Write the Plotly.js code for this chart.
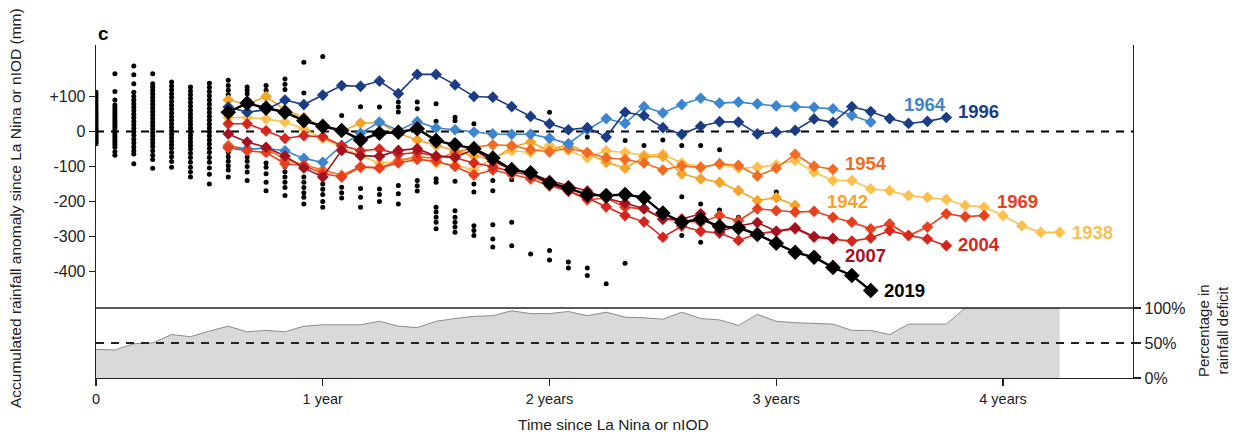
<!DOCTYPE html>
<html><head><meta charset="utf-8">
<script src="https://cdn.plot.ly/plotly-3.0.1.min.js"></script>
<style>html,body{margin:0;padding:0;background:#fff}#chart{width:1237px;height:434px}</style>
</head><body><div id="chart"></div>
<script>
// ---------- DATA ----------
const startMonth = 7; // all yearly series begin 7 months after onset
const s1938 = [40,40,36,27,8,-20,-45,-70,-90,-85,-75,-90,-95,-110,-75,-55,-60,-40,-55,-75,-55,-60,-68,-65,-90,-100,-95,-105,-102,-95,-83,-116,-140,-140,-164,-169,-183,-188,-194,-211,-216,-240,-269,-288,-288];
const s1942 = [90,78,100,62,40,12,0,24,25,-5,-24,-40,-55,-70,-80,-45,-30,-55,-35,-62,-88,-105,-73,-71,-121,-135,-145,-169,-197,-189,-211];
const s1954 = [-40,-50,-48,-80,-95,-110,-125,-100,-104,-83,-72,-77,-60,-45,-38,-40,-52,-58,-48,-60,-75,-80,-90,-110,-98,-103,-92,-97,-127,-105,-65,-99,-108];
const s1964 = [-45,-50,-48,-55,-77,-88,-40,-5,27,3,28,10,5,-2,-7,-8,-8,-19,-35,5,37,23,71,53,77,95,81,84,79,73,71,69,65,46,27];
const s1969 = [-47,-55,-60,-92,-97,-120,-130,-102,-104,-90,-80,-85,-100,-124,-110,-122,-135,-155,-170,-195,-190,-216,-221,-250,-254,-260,-240,-255,-221,-226,-230,-228,-245,-259,-278,-264,-297,-273,-235,-243,-240];
const s1996 = [70,55,62,90,77,104,131,129,144,108,163,163,133,100,98,71,43,22,5,11,-16,55,45,11,-8,15,28,27,-7,-2,3,36,26,71,57,37,23,29,40];
const s2004 = [22,22,2,-20,-12,-15,-40,-55,-50,-65,-60,-70,-75,-90,-100,-115,-125,-150,-170,-190,-215,-240,-258,-302,-270,-285,-290,-311,-292,-285,-278,-302,-307,-313,-304,-283,-297,-307,-326];
const s2007 = [-7,-30,-45,-70,-104,-130,-54,-69,-71,-54,-49,-71,-73,-52,-85,-108,-120,-140,-155,-170,-190,-205,-220,-250,-250,-235,-285,-270,-260,-285,-275,-300,-305];
const s2019 = [55,81,67,55,31,15,3,-24,-5,-2,8,-26,-38,-49,-76,-109,-118,-147,-162,-181,-183,-180,-189,-233,-259,-250,-271,-275,-294,-319,-345,-359,-388,-411,-454];

// percentage of years in rainfall deficit, month 0..51
const deficitPct = [41,40,49,50,62,59,67,74,66,68,66,74,76,76,76,81,74,72,81,85,88,89,96,92,92,95,89,94,87,86,84,94,85,83,75,91,81,79,78,77,68,68,62,77,77,77,100,100,100,100,100,100];

// other years' accumulated anomalies (mm), one list per month since onset
const otherYears = [
  [112,104,96,88,80,73,66,59,52,46,40,34,28,22,16,11,6,1,-4,-9,-14,-19,-25,-31,-35],
  [165,114,90,76,68,60,53,46,39,32,25,18,11,4,-3,-10,-17,-24,-31,-38,-45,-58,-68],
  [187,162,136,112,100,89,79,69,59,49,39,29,19,9,-1,-11,-22,-33,-44,-55,-64,-92],
  [165,136,127,117,107,97,87,77,67,57,47,37,27,17,7,-3,-13,-23,-33,-43,-55,-68,-80,-105],
  [141,130,119,108,97,86,75,64,53,42,32,22,12,2,-8,-18,-28,-38,-48,-60,-72,-86,-102],
  [127,116,105,94,83,72,61,50,40,30,20,10,0,-10,-20,-30,-40,-50,-62,-74,-88,-102,-116,-130],
  [138,126,114,102,90,78,66,54,43,32,21,10,-1,-12,-24,-36,-48,-60,-74,-88,-104,-122,-150],
  [146,131,118,105,-60,-72,-85,-98,-110,-130],
  [127,118,108,-73,-85,-100,-116,-140],
  [131,118,105,-90,-102,-121,-145,-169],
  [150,135,120,-100,-115,-130,-145,-160,-183],
  [198,110,-130,-145,-160,-175,-188,-207],
  [214,-150,-165,-180,-200,-216],
  [46,-159,-175,-190],
  [71,-163,-188,-216],
  [70,-164,-180,-200],
  [84,70,56,-154,-178,-207],
  [84,65,-140,-155,-170],
  [79,29,-135,-145,-216,-230,-245,-259,-278],
  [41,31,-142,-226,-245,-259,-273,-288],
  [22,-150,-173,-269,-283,-297],
  [-140,-169,-266,-307,-330],
  [-138,-259,-326],
  [-350],
  [55,-340,-367],
  [-373,-390],
  [-16,-390,-411],
  [-435],
  [-26,-376],
  [-40],
  [-24],
  [-40,-186,-297],
  [-40,-207,-316],
  [-52,-224],
  [-245],
  [],
  [-173]
];

const xTickVals = [0,12,24,36,48];
const xTickText = ['0','1 year','2 years','3 years','4 years'];
const yTickVals = [100,0,-100,-200,-300,-400];
const yTickText = ['+100','0','-100','-200','-300','-400'];
const y2TickVals = [0,50,100];
const y2TickText = ['0%','50%','100%'];

// ---------- STYLE ----------
const seriesStyle = [
  {name:'1938', data:s1938, color:'#fcc04f', size:9, width:1.6, xs:10, ys:0},
  {name:'1942', data:s1942, color:'#f5a42a', size:9, width:1.6, xs:30, ys:4},
  {name:'1954', data:s1954, color:'#f26b22', size:9, width:1.6, xs:10, ys:6},
  {name:'1964', data:s1964, color:'#3b86cf', size:9, width:1.6, xs:31, ys:18},
  {name:'1969', data:s1969, color:'#e8401f', size:9, width:1.6, xs:11, ys:14},
  {name:'2004', data:s2004, color:'#d7261e', size:9, width:1.6, xs:10, ys:1},
  {name:'2007', data:s2007, color:'#a3121e', size:9, width:1.6, xs:10, ys:-17},
  {name:'1996', data:s1996, color:'#1b3d85', size:9, width:1.6, xs:10, ys:6},
  {name:'2019', data:s2019, color:'#000000', size:12, width:2.4, xs:11, ys:0}
];

const FONT = 'Liberation Sans, Arial, Helvetica, sans-serif';
const traces = [];

// black dots of other years
const dx = [], dy = [];
otherYears.forEach((col, m) => col.forEach(v => { dx.push(m); dy.push(v); }));
traces.push({x:dx, y:dy, xaxis:'x', yaxis:'y', mode:'markers', type:'scatter',
  marker:{symbol:'circle', size:5, color:'#000'}, hoverinfo:'skip', showlegend:false});

// deficit area
traces.push({x:deficitPct.map((_, i) => i), y:deficitPct, xaxis:'x', yaxis:'y2', type:'scatter',
  mode:'lines', fill:'tozeroy', fillcolor:'#d9d9d9', line:{color:'#8c8c8c', width:1}, showlegend:false});

const annotations = [];
seriesStyle.forEach(s => {
  const xs = s.data.map((_, i) => startMonth + i);
  traces.push({x:xs, y:s.data, xaxis:'x', yaxis:'y', type:'scatter', mode:'lines+markers',
    line:{color:s.color, width:s.width}, marker:{symbol:'diamond', size:s.size, color:s.color, line:{width:0}},
    showlegend:false, name:s.name});
  annotations.push({x:xs[xs.length-1], y:s.data[s.data.length-1], xref:'x', yref:'y', text:'<b>' + s.name + '</b>',
    showarrow:false, xanchor:'left', yanchor:'middle', xshift:s.xs, yshift:s.ys,
    font:{family:FONT, size:18.5, color:s.color}});
});

annotations.push(
  {text:'<b>c</b>', xref:'paper', yref:'paper', x:0.0, y:1.036, xanchor:'left', yanchor:'middle', showarrow:false, font:{family:FONT, size:19, color:'#000'}},
  {text:'Accumulated rainfall anomaly since La Nina or nIOD (mm)', xref:'paper', yref:'paper', x:-0.0781, y:0.5105, textangle:-90, xanchor:'center', yanchor:'middle', showarrow:false, font:{family:FONT, size:15.5, color:'#222'}},
  {text:'Time since La Nina or nIOD', xref:'paper', yref:'paper', x:0.4995, y:-0.141, xanchor:'center', yanchor:'middle', showarrow:false, font:{family:FONT, size:15.5, color:'#222'}},
  {text:'Percentage in<br>rainfall deficit', xref:'paper', yref:'paper', x:1.0771, y:0.144, textangle:-90, xanchor:'center', yanchor:'middle', showarrow:false, font:{family:FONT, size:15, color:'#222'}}
);

const split = 70/333;
const layout = {
  width:1237, height:434,
  margin:{l:96, r:104, t:45, b:56, pad:0},
  paper_bgcolor:'#fff', plot_bgcolor:'rgba(0,0,0,0)',
  font:{family:FONT, size:14, color:'#222'},
  showlegend:false,
  xaxis:{range:[0,54.88], anchor:'y2', tickvals:xTickVals, ticktext:xTickText, ticks:'outside', ticklen:7, tickwidth:1.3, tickcolor:'#222',
    showline:true, linecolor:'#222', linewidth:1.3, showgrid:false, zeroline:false, tickfont:{family:FONT, size:14.5, color:'#222'}},
  yaxis:{domain:[split,1], range:[-504,247], anchor:'x', tickvals:yTickVals, ticktext:yTickText, ticks:'outside', ticklen:6, tickwidth:1.3, tickcolor:'#222',
    showline:true, mirror:true, linecolor:'#222', linewidth:1.3, showgrid:false, zeroline:false, tickfont:{family:FONT, size:16, color:'#222'}},
  yaxis2:{domain:[0,split], range:[0,100], anchor:'x', side:'right', tickvals:y2TickVals, ticktext:y2TickText, ticks:'outside', ticklen:7, tickwidth:1.3, tickcolor:'#222',
    showline:true, mirror:true, linecolor:'#222', linewidth:1.3, showgrid:false, zeroline:false, tickfont:{family:FONT, size:16, color:'#222'}},
  shapes:[
    {type:'line', xref:'paper', yref:'paper', x0:0, x1:1, y0:split, y1:split, line:{color:'#222', width:1.3}, layer:'above'},
    {type:'line', xref:'paper', yref:'y', x0:0, x1:1, y0:0, y1:0, line:{color:'#000', width:2, dash:'8px,7px'}, layer:'below'},
    {type:'line', xref:'paper', yref:'y2', x0:0, x1:1, y0:50, y1:50, line:{color:'#222', width:2, dash:'8px,7px'}, layer:'above'}
  ],
  annotations:annotations
};

Plotly.newPlot('chart', traces, layout, {displayModeBar:false, staticPlot:true});
</script>
</body></html>
